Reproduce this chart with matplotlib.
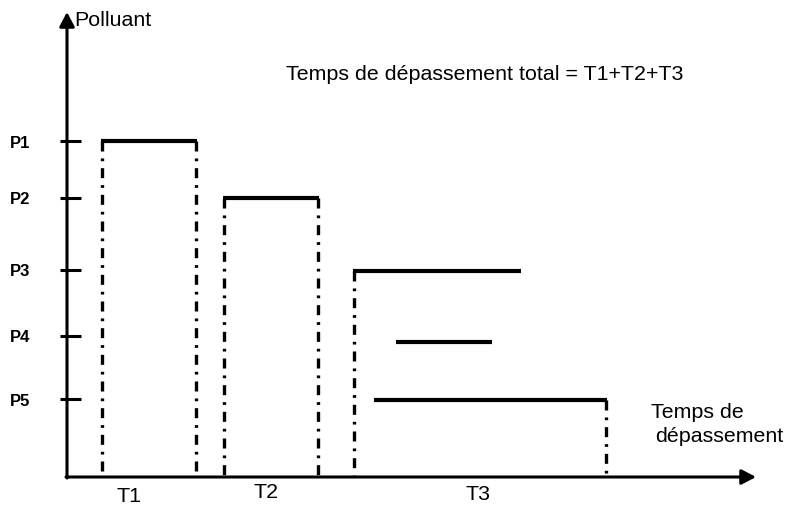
import matplotlib
matplotlib.use("Agg")
import matplotlib.pyplot as plt

plt.rcParams['font.family'] = ['Liberation Sans', 'DejaVu Sans']
plt.rcParams['lines.scale_dashes'] = False

# ---- data (pixel-like diagram units, y grows downward) ----
level_labels = ["P1", "P2", "P3", "P4", "P5"]
tick_y = [141, 198, 270, 336, 399]
seg_y = [141, 198, 271, 342, 400]
seg_start = [102, 224, 354, 397, 375]
seg_end = [196, 318, 520, 491, 606]

vline_x = [102, 196, 224, 318, 354, 606]
vline_top = [141, 141, 198, 198, 271, 400]

period_labels = ["T1", "T2", "T3"]
period_x = [129, 266, 478]
period_y = [497, 493, 495]

axis_origin = (67, 477)
x_axis_end = 756
y_axis_end = 12

fig = plt.figure(figsize=(7.88, 5.08), dpi=100)
ax = fig.add_axes([0, 0, 1, 1])
ax.set_xlim(0, 788)
ax.set_ylim(508, 0)
ax.axis('off')

ox, oy = axis_origin
# axes with arrows
arrow_kw = dict(arrowstyle='-|>,head_length=0.86,head_width=0.45', lw=2.2,
                color='black', mutation_scale=10, shrinkA=0, shrinkB=0)
ax.annotate('', xy=(x_axis_end, oy), xytext=(ox - 1, oy), arrowprops=arrow_kw)
ax.annotate('', xy=(ox, y_axis_end), xytext=(ox, oy + 1), arrowprops=arrow_kw)

# ticks & level labels
for lab, ty in zip(level_labels, tick_y):
    ax.plot([60, 81], [ty, ty], color='black', lw=2.2, solid_capstyle='butt')
    ax.text(20, ty + 2, lab, fontsize=12, fontweight='bold', ha='center', va='center')

# vertical dash-dot lines
dash = (0, (7.2, 5.0, 2.0, 5.0))
for vx, vt in zip(vline_x, vline_top):
    ax.plot([vx, vx], [vt, oy - 2], color='black', lw=2.4, linestyle=dash,
            dash_capstyle='butt')

# horizontal thick segments
for y, s, e in zip(seg_y, seg_start, seg_end):
    ax.plot([s - 1, e + 1], [y, y], color='black', lw=3.0, solid_capstyle='butt')

# period labels
fs = 15.4
for lab, px, py in zip(period_labels, period_x, period_y):
    ax.text(px, py, lab, fontsize=fs, ha='center', va='center')

ax.text(74, 20, "Polluant", fontsize=fs, ha='left', va='center')
ax.text(286, 75, "Temps de dépassement total = T1+T2+T3", fontsize=fs,
        ha='left', va='center')
ax.text(651, 412, "Temps de", fontsize=fs, ha='left', va='center')
ax.text(655, 437, "dépassement", fontsize=fs, ha='left', va='center')

fig.savefig("out.png", dpi=100)
